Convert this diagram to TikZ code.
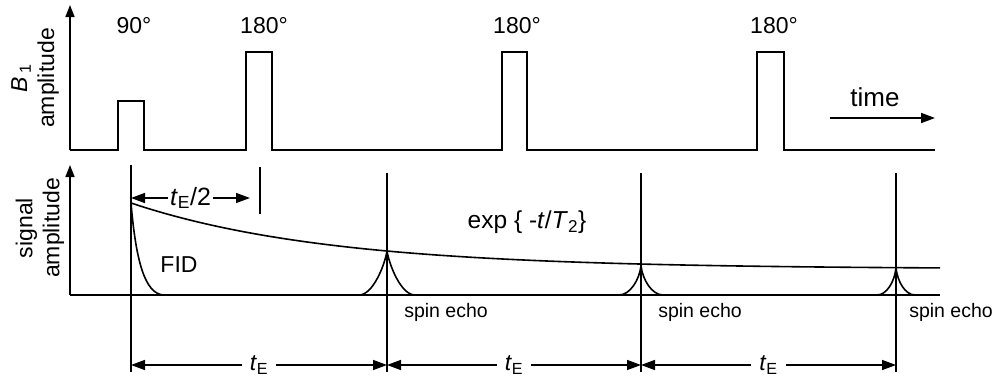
\documentclass[tikz,border=0pt]{standalone}
\usepackage{fontspec}
\setmainfont{Liberation Sans}
\usepackage{tikz}
\usetikzlibrary{arrows.meta,calc}
\newcommand{\sub}[1]{\textsubscript{#1}}
\newcommand{\tE}{\textit{t}\sub{E}}

\begin{document}
\begin{tikzpicture}[x=1pt, y=-1pt, >={Triangle[length=14pt,width=10pt]},
  font=\fontsize{23}{27}\selectfont,
  axis/.style={line width=1.6pt, -{Triangle[length=12pt,width=9pt]}},
  wave/.style={line width=1.8pt, line join=miter},
  mark line/.style={line width=1.4pt},
  sig/.style={line width=1.6pt},
  dim/.style={line width=1.4pt, <->},
  lbl/.style={fill=white, inner sep=2pt},
  small/.style={font=\fontsize{19.5}{23}\selectfont}]
\useasboundingbox (0,0) rectangle (995,380);

% B1 pulse sequence
\coordinate (o1) at (70,150);
\coordinate (y1) at (70,5);
\coordinate (e1) at (935,150);
\draw[axis] (o1) -- (y1);
\draw[wave] (o1) -- (118,150) -- (118,101) -- (144,101) -- (144,150)
  -- (246,150) -- (246,52) -- (272,52) -- (272,150)
  -- (502,150) -- (502,52) -- (527,52) -- (527,150)
  -- (757,150) -- (757,52) -- (784,52) -- (784,150) -- (e1);
\node (p90)  at (134,26) {90°};
\node (p180a) at (264,26) {180°};
\node (p180b) at (517,26) {180°};
\node (p180c) at (774,26) {180°};
\node[rotate=90, align=center] (ylab1) at (35,78) {\textit{B}\,\sub{1}\\amplitude};

\coordinate (ts) at (830,118);
\coordinate (te) at (935,118);
\draw[line width=1.6pt, ->] (ts) -- (te);
\node[font=\fontsize{26}{30}\selectfont] (time) at (875,97) {time};

% signal
\coordinate (o2) at (70,295);
\coordinate (y2) at (70,165);
\coordinate (e2) at (940,295);
\draw[axis] (o2) -- (y2);
\draw[sig] (o2) -- (e2);
\node[rotate=90, align=center] (ylab2) at (40,228) {signal\\amplitude};

% vertical markers
\coordinate (v0t) at (131,165); \coordinate (v0b) at (131,372);
\coordinate (v1t) at (387,173); \coordinate (v1b) at (387,372);
\coordinate (v2t) at (641,173); \coordinate (v2b) at (641,372);
\coordinate (v3t) at (896,173); \coordinate (v3b) at (896,372);
\foreach \v in {0,1,2,3}
  \draw[mark line] (v\v t) -- (v\v b);
\coordinate (ht) at (260,167);
\coordinate (hb) at (260,214);
\draw[mark line] (ht) -- (hb);

% T2 decay, FID and echoes
\draw[sig, domain=131:940, samples=80, smooth]
  plot (\x, {295-26-66*exp(-(\x-131)/197)});
\draw[sig] (131,203) .. controls (136,262) and (145,293) .. (163,295);
\foreach \p/\h/\w in {387/251/28, 641/266/22, 896/268/19}
  \draw[sig] (\p-\w,295) .. controls (\p-0.5*\w,295) and (\p-0.08*\w,\h+14) .. (\p,\h)
    .. controls (\p+0.08*\w,\h+14) and (\p+0.5*\w,295) .. (\p+\w,295);
\node (fid) at (179,265) {FID};
\node[font=\fontsize{24.5}{28}\selectfont] (expl) at (527,222) {exp \{ -\textit{t}/\textit{T}\sub{2}\}};
\node[small] (se1) at (446,312) {spin echo};
\node[small] (se2) at (700,312) {spin echo};
\node[small] (se3) at (951,312) {spin echo};

% time spans
\coordinate (h0) at (131,198);
\coordinate (h1) at (250,198);
\draw[dim] (h0) -- node[lbl, font=\fontsize{25}{29}\selectfont] (half) {\tE/2} (h1);
\coordinate (a0) at (131,365);
\coordinate (a1) at (387,365);
\coordinate (a2) at (641,365);
\coordinate (a3) at (896,365);
\draw[dim] (a0) -- node[lbl, inner xsep=8pt] (te1) {\tE} (a1);
\draw[dim] (a1) -- node[lbl, inner xsep=8pt] (te2) {\tE} (a2);
\draw[dim] (a2) -- node[lbl, inner xsep=8pt] (te3) {\tE} (a3);
\end{tikzpicture}
\end{document}
